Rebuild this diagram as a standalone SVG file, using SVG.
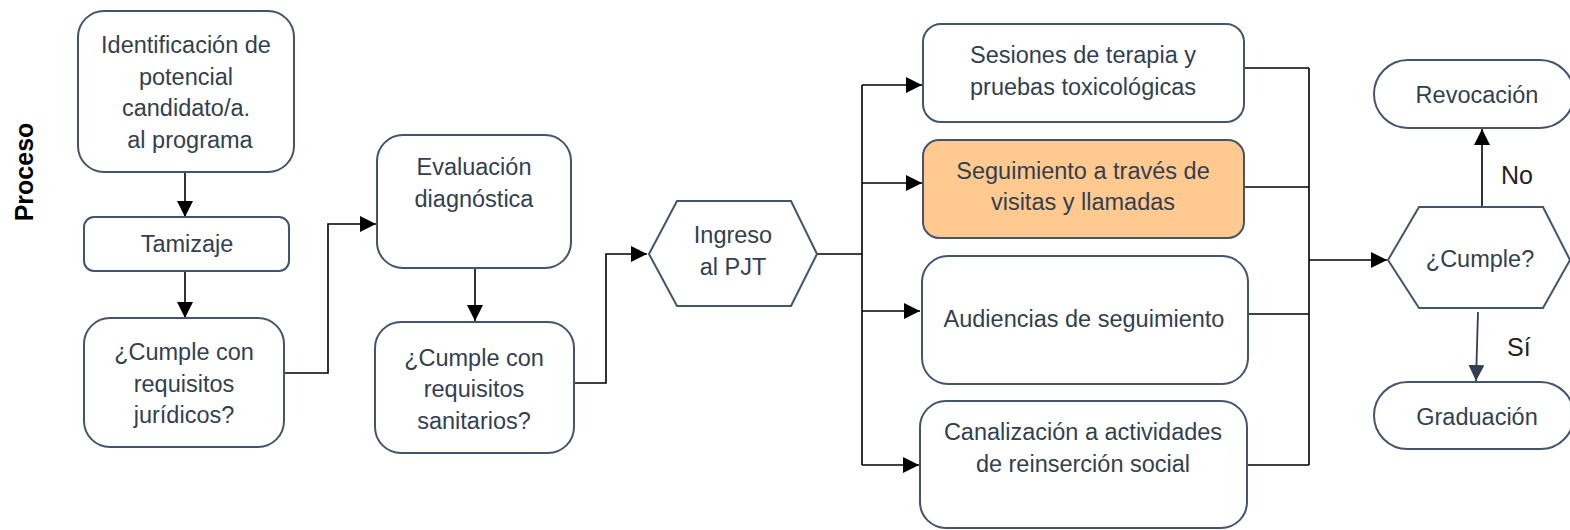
<svg xmlns="http://www.w3.org/2000/svg" width="1570" height="530" viewBox="0 0 1570 530">
<defs>
<style>
.box{fill:#fff;stroke:#44546A;stroke-width:2}
.hl{fill:#FFC990;stroke:#44546A;stroke-width:2}
.t{font-family:"Liberation Sans",Arial,sans-serif;font-size:23.5px;fill:#333F4F;text-anchor:middle}
.c{fill:none;stroke:#000;stroke-width:1.6}
.lbl{font-family:"Liberation Sans",Arial,sans-serif;font-size:25px;fill:#222}
</style>
<marker id="ah" viewBox="0 0 10 10" refX="10" refY="5" markerUnits="userSpaceOnUse" markerWidth="16" markerHeight="16" orient="auto">
<path d="M0,0 L10,5 L0,10 z" fill="#000"/>
</marker>
<marker id="ah2" viewBox="0 0 10 10" refX="10" refY="5" markerUnits="userSpaceOnUse" markerWidth="16" markerHeight="16" orient="auto">
<path d="M0,0 L10,5 L0,10 z" fill="#333F50"/>
</marker>
</defs>
<rect width="1570" height="530" fill="#fff"/>
<text x="0" y="0" transform="translate(33,172) rotate(-90)" style="font-family:'Liberation Sans',Arial,sans-serif;font-size:25px;font-weight:bold;fill:#000;text-anchor:middle">Proceso</text>

<g id="connectors">
<path class="c" d="M185,172 V217" marker-end="url(#ah)"/>
<path class="c" d="M185,272 V318" marker-end="url(#ah)"/>
<path class="c" d="M284,373 H328 V224 H376" marker-end="url(#ah)"/>
<path class="c" d="M475,268 V321" marker-end="url(#ah)"/>
<path class="c" d="M574,383 H606 V254 H647" marker-end="url(#ah)"/>
<path class="c" d="M817,254 H862"/>
<path class="c" d="M862,85 V465"/>
<path class="c" d="M862,85 H922" marker-end="url(#ah)"/>
<path class="c" d="M862,183 H922" marker-end="url(#ah)"/>
<path class="c" d="M862,311 H920" marker-end="url(#ah)"/>
<path class="c" d="M862,465 H919" marker-end="url(#ah)"/>
<path class="c" d="M1244,68 H1309"/>
<path class="c" d="M1244,187 H1309"/>
<path class="c" d="M1248,314 H1309"/>
<path class="c" d="M1247,465 H1309"/>
<path class="c" d="M1309,68 V465"/>
<path class="c" d="M1309,260 H1387" marker-end="url(#ah)"/>
<path class="c" d="M1482,207 V129" marker-end="url(#ah)"/>
<path d="M1478,312 L1476,381" fill="none" stroke="#333F50" stroke-width="1.8" marker-end="url(#ah2)"/>
<text class="lbl" x="1501" y="184">No</text>
<text class="lbl" x="1507" y="356">Sí</text>
</g>

<g id="n-identificacion">
<rect class="box" x="78" y="11" width="216" height="161" rx="26"/>
<text class="t" x="186" y="53">Identificación de</text>
<text class="t" x="186" y="84.5">potencial</text>
<text class="t" x="186" y="116">candidato/a.</text>
<text class="t" x="190" y="147.5">al programa</text>
</g>
<g id="n-tamizaje">
<rect class="box" x="84" y="217" width="205" height="54" rx="10"/>
<text class="t" x="187" y="252">Tamizaje</text>
</g>
<g id="n-juridicos">
<rect class="box" x="84" y="318" width="200" height="129" rx="26"/>
<text class="t" x="184" y="360">¿Cumple con</text>
<text class="t" x="184" y="392">requisitos</text>
<text class="t" x="184" y="423">jurídicos?</text>
</g>
<g id="n-evaluacion">
<rect class="box" x="377" y="135" width="194" height="133" rx="26"/>
<text class="t" x="474" y="175">Evaluación</text>
<text class="t" x="474" y="207">diagnóstica</text>
</g>
<g id="n-sanitarios">
<rect class="box" x="375" y="322" width="199" height="131" rx="26"/>
<text class="t" x="474" y="366">¿Cumple con</text>
<text class="t" x="474" y="397">requisitos</text>
<text class="t" x="474" y="429">sanitarios?</text>
</g>
<g id="n-ingreso">
<polygon class="box" points="649,254 677,201 791,201 817,254 791,306 677,306"/>
<text class="t" x="733" y="243">Ingreso</text>
<text class="t" x="733" y="275">al PJT</text>
</g>
<g id="n-sesiones">
<rect class="box" x="923" y="24" width="321" height="98" rx="18"/>
<text class="t" x="1083" y="63">Sesiones de terapia y</text>
<text class="t" x="1083" y="95">pruebas toxicológicas</text>
</g>
<g id="n-seguimiento">
<rect class="hl" x="923" y="140" width="321" height="98" rx="16"/>
<text class="t" x="1083" y="179">Seguimiento a través de</text>
<text class="t" x="1083" y="210">visitas y llamadas</text>
</g>
<g id="n-audiencias">
<rect class="box" x="922" y="256" width="326" height="128" rx="26"/>
<text class="t" x="1084" y="327">Audiencias de seguimiento</text>
</g>
<g id="n-canalizacion">
<rect class="box" x="920" y="401" width="327" height="127" rx="26"/>
<text class="t" x="1083" y="440">Canalización a actividades</text>
<text class="t" x="1083" y="472">de reinserción social</text>
</g>
<g id="n-revocacion">
<rect class="box" x="1374" y="60" width="200" height="68" rx="34"/>
<text class="t" x="1477" y="103">Revocación</text>
</g>
<g id="n-cumple">
<polygon class="box" points="1388,260 1419,207 1543,207 1570,260 1543,308 1419,308"/>
<text class="t" x="1480" y="267">¿Cumple?</text>
</g>
<g id="n-graduacion">
<rect class="box" x="1374" y="382" width="200" height="67" rx="33.5"/>
<text class="t" x="1477" y="425">Graduación</text>
</g>
</svg>
